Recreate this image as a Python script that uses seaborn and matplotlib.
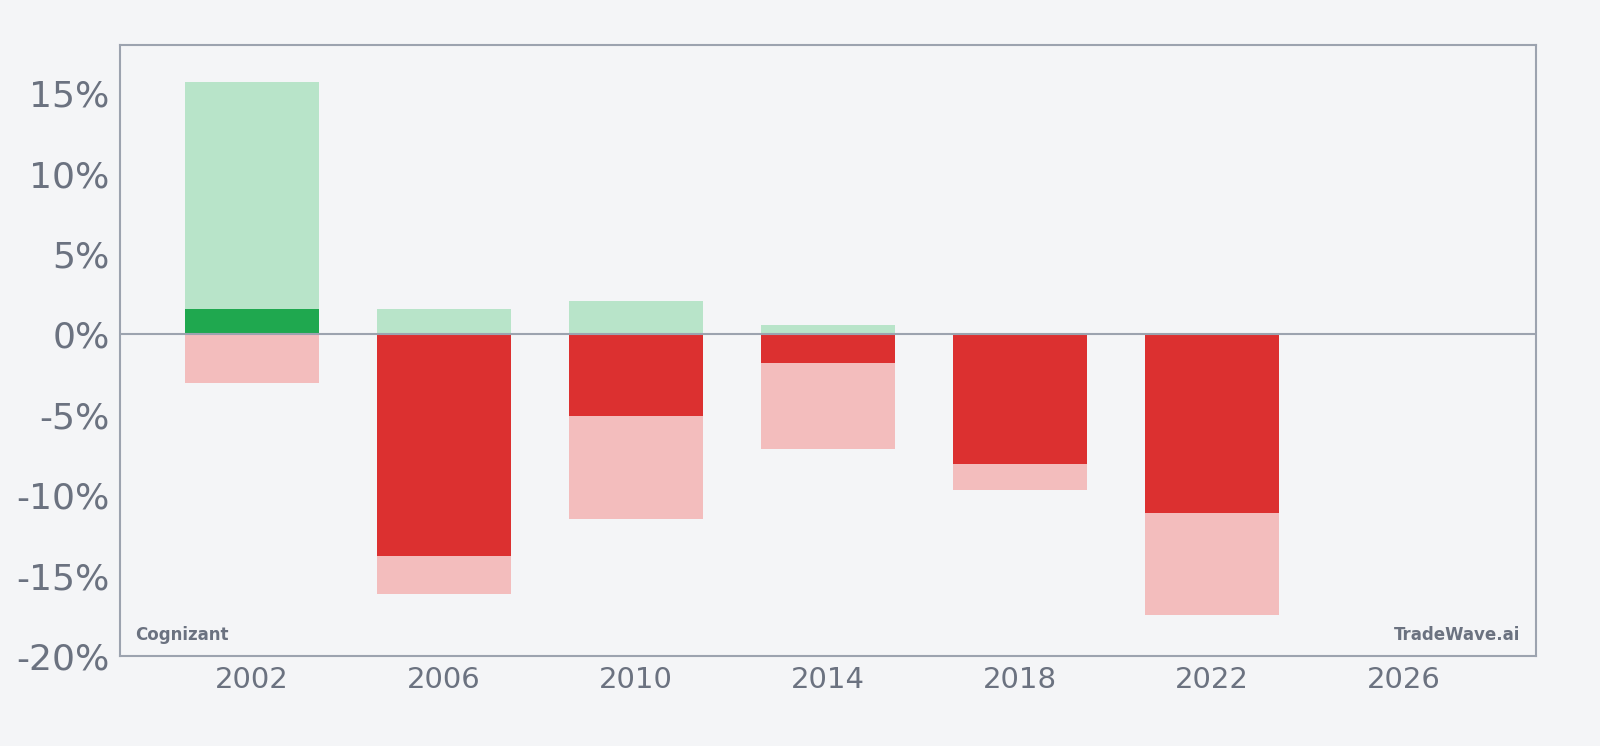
import pandas as pd
import numpy as np
import matplotlib.pyplot as plt
import seaborn as sns

# Yearly returns (%) - close, period high, period low
years = [2002, 2006, 2010, 2014, 2018, 2022]
close_ret = [1.6, -13.75, -5.1, -1.8, -8.05, -11.1]
high_ret = [15.7, 1.6, 2.1, 0.6, 0.0, 0.0]
low_ret = [-3.05, -16.15, -11.45, -7.15, -9.7, -17.45]

df = pd.DataFrame({'year': years, 'close': close_ret, 'high': high_ret, 'low': low_ret})
df['sign'] = np.where(df['close'] >= 0, 'up', 'down')

bg = '#f4f5f7'
txt = '#6b7280'
spine = '#9ca3af'

sns.set_style('white')
plt.rcParams['font.family'] = ['DejaVu Sans']

fig = plt.figure(figsize=(16, 7.46), dpi=100, facecolor=bg)
ax = fig.add_axes([0.075, 0.1206, 0.885, 0.8191])
ax.set_facecolor(bg)

sns.barplot(data=df, x='year', y='high', native_scale=True, width=0.7,
            color='#b8e4c9', saturation=1, linewidth=0, ax=ax)
sns.barplot(data=df, x='year', y='low', native_scale=True, width=0.7,
            color='#f3bdbd', saturation=1, linewidth=0, ax=ax)
sns.barplot(data=df, x='year', y='close', hue='sign', native_scale=True, width=0.7,
            dodge=False, palette={'up': '#1fa84f', 'down': '#dc3030'},
            saturation=1, linewidth=0, legend=False, ax=ax)

ax.axhline(0, color=spine, lw=1.5, zorder=5)

ax.set_xlim(1999.25, 2028.75)
ax.set_ylim(-20, 18)
ax.set_xticks(range(2002, 2027, 4))
ax.set_xticklabels([str(y) for y in range(2002, 2027, 4)])
ax.set_yticks(range(-20, 16, 5))
ax.set_yticklabels([f'{v}%' for v in range(-20, 16, 5)])
ax.set_xlabel('')
ax.set_ylabel('')

ax.tick_params(axis='y', labelsize=26, colors=txt, length=4, width=1, color=spine, pad=3.5)
ax.tick_params(axis='x', labelsize=21, colors=txt, length=4, width=1, color=spine, pad=3.5)
for s in ax.spines.values():
    s.set_visible(True)
    s.set_color(spine)
    s.set_linewidth(1.5)

ax.text(0.011, 0.027, 'Cognizant', transform=ax.transAxes, fontsize=12,
        fontweight='bold', color=txt, ha='left', va='baseline')
ax.text(0.989, 0.027, 'TradeWave.ai', transform=ax.transAxes, fontsize=12,
        fontweight='bold', color=txt, ha='right', va='baseline')

fig.savefig('out.png', dpi=100, facecolor=bg)
